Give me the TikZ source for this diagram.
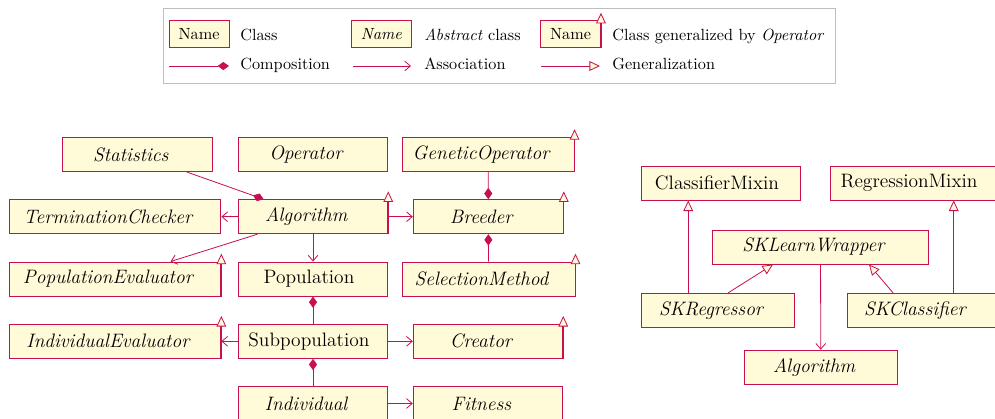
\documentclass[tikz,border=0pt]{standalone}
\usetikzlibrary{arrows.meta,calc}
\definecolor{umlred}{RGB}{200,16,80}
\definecolor{umlfill}{RGB}{255,250,215}
\definecolor{legframe}{RGB}{190,190,190}
\newcommand\clsI[1]{\textit{#1}\hspace*{8pt}}
\newcommand\clsU[1]{#1\hspace*{5pt}}
\newcommand\pw[1]{#1*0.6173pt}
\begin{document}
\begin{tikzpicture}[x=0.6173pt,y=-0.6173pt,
 cls/.style={draw=umlred, fill=umlfill, line width=0.6pt, minimum height=21pt, minimum width=\pw{149.5}, inner sep=0pt, font=\fontsize{12}{14}\selectfont},
 legcls/.style={draw=umlred, fill=umlfill, line width=0.6pt, minimum height=\pw{26.6}, minimum width=\pw{60}, inner sep=0pt, font=\fontsize{10}{12}\selectfont},
 legtxt/.style={anchor=base west, inner sep=0pt, font=\fontsize{10}{12}\selectfont},
 conn/.style={draw=umlred, line width=0.5pt},
 assoc/.style={conn, -{Straight Barb[length=3.5pt,width=6pt]}},
 comp/.style={conn, -{Diamond[length=7pt,width=5pt]}},
 gen/.style={conn, -{Triangle[length=6.5pt,width=6pt,fill=umlfill]}},
]
\useasboundingbox (0,0) rectangle (995,418);

% legend
\draw[legframe, line width=0.6pt] (163.3,8.3) rectangle (835,83.5);
\node[legcls] (l1) at (199,34) {Name};
\node[legtxt] (l1t) at (240,40) {Class};
\node[legcls] (l2) at (381.5,34) {\textit{Name}};
\node[legtxt] (l2t) at (424,40) {\textit{Abstract} class};
\node[legcls] (l3) at (570.5,34) {Name};
\draw[gen] (l3.south east) -- ($(l3.north east)+(0,-7.4)$);
\node[legtxt] (l3t) at (612,40) {Class generalized by \textit{Operator}};
\coordinate (c1a) at (169,66); \coordinate (c1b) at (229,66);
\draw[comp] (c1a) -- (c1b);
\node[legtxt] (c1t) at (240,69.5) {Composition};
\coordinate (c2a) at (352.5,66); \coordinate (c2b) at (411,66);
\draw[assoc] (c2a) -- (c2b);
\node[legtxt] (c2t) at (424,69.5) {Association};
\coordinate (c3a) at (541,66); \coordinate (c3b) at (600,66);
\draw[gen] (c3a) -- (c3b);
\node[legtxt] (c3t) at (612,69.5) {Generalization};

% left diagram
\node[cls, minimum width=\pw{149.3}] (stat) at (137.4,154.5) {\clsI{Statistics}};
\node[cls] (op) at (313,154.5) {\clsI{Operator}};
\node[cls, minimum width=\pw{171.7}] (genop) at (488.2,154.5) {\clsI{GeneticOperator}};
\node[cls, minimum width=\pw{211.7}] (term) at (115,216.7) {\clsI{TerminationChecker}};
\node[cls] (alg) at (313,216.7) {\clsI{Algorithm}};
\node[cls, minimum width=\pw{150}] (breed) at (488.3,216.7) {\clsI{Breeder}};
\node[cls, minimum width=\pw{211.7}] (popev) at (115,279) {\clsI{PopulationEvaluator}};
\node[cls] (pop) at (313,279) {\clsU{Population}};
\node[cls, minimum width=\pw{173}] (sel) at (488.5,279) {\clsI{SelectionMethod}};
\node[cls, minimum width=\pw{211.7}] (indev) at (115,341.3) {\clsI{IndividualEvaluator}};
\node[cls] (subpop) at (313,341.3) {\clsU{Subpopulation}};
\node[cls] (creator) at (488,341.3) {\clsI{Creator}};
\node[cls] (ind) at (313,403.5) {\clsI{Individual}};
\node[cls] (fit) at (488,403.5) {\clsI{Fitness}};

\draw[comp] (stat) -- (alg);
\draw[assoc] (alg) -- (term);
\draw[assoc] (alg) -- (popev);
\draw[assoc] (alg) -- (breed);
\draw[assoc] (alg) -- (pop);
\draw[comp] (genop) -- (breed);
\draw[comp] (sel) -- (breed);
\draw[comp] (subpop) -- (pop);
\draw[comp] (ind) -- (subpop);
\draw[assoc] (subpop) -- (indev);
\draw[assoc] (subpop) -- (creator);
\draw[assoc] (ind) -- (fit);
\foreach \n in {genop,alg,breed,popev,sel,indev,creator}
  \draw[gen] (\n.south east) -- ($(\n.north east)+(0,-7.8)$);

% right diagram
\node[cls, minimum width=\pw{158.6}] (cmix) at (721,183) {\clsU{ClassifierMixin}};
\node[cls, minimum width=\pw{166}] (rmix) at (913,183) {\clsU{RegressionMixin}};
\node[cls, minimum width=\pw{215.6}] (skw) at (820.5,247) {\clsI{SKLearnWrapper}};
\node[cls, minimum width=\pw{153}] (skr) at (718.2,310.3) {\clsI{SKRegressor}};
\node[cls, minimum width=\pw{150}] (skc) at (922,310.3) {\clsI{SKClassifier}};
\node[cls, minimum width=\pw{153}] (alg2) at (820.8,367.2) {\clsI{Algorithm}};

\coordinate (ra) at ($(skr.north)+(-30,0)$);
\draw[gen] (ra) -- (ra |- cmix.south);
\coordinate (rb) at ($(skc.north)+(31.7,0)$);
\draw[gen] (rb) -- (rb |- rmix.south);
\draw[gen] ($(skr.north)+(10,0)$) -- ($(skw.south)+(-47.5,0)$);
\draw[gen] ($(skc.north)+(-29,0)$) -- ($(skw.south)+(48.5,0)$);
\draw[assoc] (skw) -- (alg2);
\end{tikzpicture}
\end{document}
